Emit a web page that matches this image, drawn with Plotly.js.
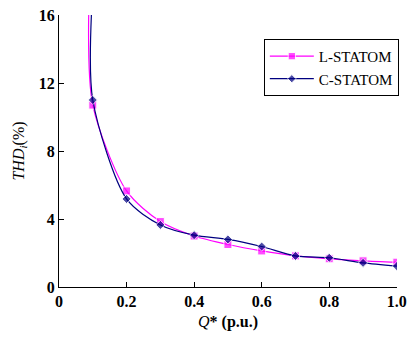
<!DOCTYPE html>
<html><head><meta charset="utf-8">
<script src="https://cdn.plot.ly/plotly-3.0.1.min.js"></script>
<style>html,body{margin:0;padding:0;background:#fff}
#chart text{font-family:"Liberation Serif","Times New Roman",serif !important}</style>
</head><body><div id="chart" style="width:407px;height:338px"></div>
<script>
const qL = [0.088, 0.1, 0.2, 0.3, 0.4, 0.5, 0.6, 0.7, 0.8, 0.9, 1.0];
const thdL = [16.2, 10.7, 5.65, 3.85, 3.0, 2.5, 2.12, 1.83, 1.66, 1.54, 1.46];
const qC = [0.097, 0.1, 0.2, 0.3, 0.4, 0.5, 0.6, 0.7, 0.8, 0.9, 1.0];
const thdC = [16.5, 11.0, 5.18, 3.65, 3.05, 2.8, 2.38, 1.83, 1.72, 1.42, 1.23];
const markL = [0, 8, 8, 8, 8, 8, 8, 8, 8, 8, 8];
const markC = [0, 7, 7, 7, 7, 7, 7, 7, 7, 7, 7];
const xTicks = [0, 0.2, 0.4, 0.6, 0.8, 1.0];
const xTickText = ['0', '0.2', '0.4', '0.6', '0.8', '1.0'];
const yTicks = [0, 4, 8, 12, 16];

const serif = 'Liberation Serif';
const traces = [
  {x: qL, y: thdL, name: 'L-STATOM', mode: 'lines+markers',
   line: {color: '#FF00FF', width: 1.2, shape: 'spline', smoothing: 0.8},
   marker: {symbol: 'square', size: markL, color: '#FF00FF'}},
  {x: qC, y: thdC, name: 'C-STATOM', mode: 'lines+markers',
   line: {color: '#000080', width: 1.2, shape: 'spline', smoothing: 0.8},
   marker: {symbol: 'diamond', size: markC, color: '#000080'}}
];
const layout = {
  width: 407, height: 338,
  margin: {l: 59, r: 8, t: 15, b: 51},
  paper_bgcolor: '#fff', plot_bgcolor: '#fff',
  font: {family: serif, color: '#000', size: 14},
  showlegend: true,
  legend: {x: 0.606, y: 0.912, xanchor: 'left', yanchor: 'top',
           bgcolor: '#fff', bordercolor: '#000', borderwidth: 1,
           font: {family: serif, size: 15, color: '#000'},
           itemwidth: 44, tracegroupgap: 2},
  xaxis: {range: [0, 1.0005], tickvals: xTicks, ticktext: xTickText,
          ticks: 'inside', ticklen: 5, tickcolor: '#000', ticklabeloverflow: 'allow',
          showline: true, linecolor: '#000', linewidth: 1, showgrid: false, zeroline: false,
          tickfont: {family: serif, size: 16, weight: 'bold'},
          title: {text: '<i>Q</i><b>* (p.u.)</b>', font: {family: serif, size: 16}, standoff: 6}},
  yaxis: {range: [0, 16], tickvals: yTicks,
          ticks: 'inside', ticklen: 5, tickcolor: '#000',
          showline: true, linecolor: '#000', linewidth: 1, showgrid: false, zeroline: false,
          tickfont: {family: serif, size: 16, weight: 'bold'},
          title: {text: '<i>THD<sub>i</sub></i>(%)', font: {family: serif, size: 16}, standoff: 10}}
};
Plotly.newPlot('chart', traces, layout, {displayModeBar: false, staticPlot: true});
</script></body></html>
